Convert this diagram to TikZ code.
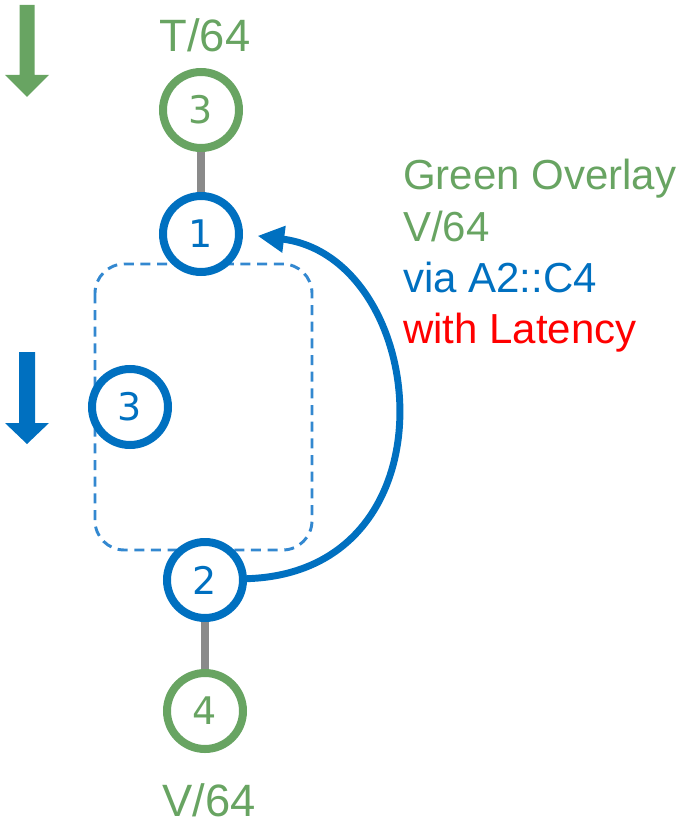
\documentclass[tikz,border=0pt]{standalone}
\usepackage{fontspec}
\setmainfont{Liberation Sans}
\newfontfamily\digitfont{DejaVu Sans}
\usepackage{tikz}
\usetikzlibrary{arrows.meta}
\definecolor{ovgreen}{HTML}{68A462}
\definecolor{ovblue}{HTML}{0070C0}
\definecolor{grpblue}{HTML}{3388D0}
\definecolor{linkgray}{HTML}{8A8A8A}
\definecolor{latred}{HTML}{FF0000}

\begin{document}
\begin{tikzpicture}[x=0.75pt, y=-0.75pt, every node/.style={inner sep=0pt},
      hop/.style={circle, draw=ovblue, text=ovblue, fill=white, line width=6pt,
      minimum size=57pt, font=\digitfont\fontsize{28.5}{28.5}\selectfont},
      overlay hop/.style={hop, draw=ovgreen, text=ovgreen},
      lbl/.style={text=ovgreen, font=\fontsize{34}{34}\selectfont},
      link/.style={draw=linkgray, line width=6.5pt},
      grp/.style={draw=grpblue, line width=2.2pt, dash pattern=on 7.5pt off 5pt, rounded corners=22pt},
      >={Triangle[length=20pt,width=19pt]}]
    \useasboundingbox (0,0) rectangle (683,827);
    \draw[grp] (95,264) rectangle (312,550);
    \fill[ovgreen] (19.5,5) -- (34.5,5) -- (34.5,75) -- (49,75) -- (27,97) -- (5,75) -- (19.5,75) -- cycle;
    \fill[ovblue] (19,352) -- (35,352) -- (35,423) -- (49,423) -- (27,444) -- (5,423) -- (19,423) -- cycle;
    \node[overlay hop] (t3) at (201,110) {3};
    \node[hop] (c1) at (201,234) {1};
    \node[hop] (m3) at (130,407) {3};
    \node[hop] (c2) at (205,580) {2};
    \node[overlay hop] (b4) at (205,711) {4};
    \node[lbl, anchor=base] (tl) at (205,52) {T/64};
    \node[lbl, anchor=base] (bl) at (209,816) {V/64};
    \draw[link] (t3) -- (c1); \draw[link] (c2) -- (b4);
    \draw[->, draw=ovblue, fill=none, line width=5.2pt, shorten >=11pt]
      (c2) .. controls (460,572) and (430,258) .. (c1.east);
    \node[anchor=north west, align=left, font=\fontsize{31.5}{38.5}\selectfont] (txt) at (403,159)
      {\textcolor{ovgreen}{Green Overlay}\\ \textcolor{ovgreen}{V/64}\\
       \textcolor{ovblue}{via A2::C4}\\ \textcolor{latred}{with Latency}};
  \end{tikzpicture}
\end{document}
